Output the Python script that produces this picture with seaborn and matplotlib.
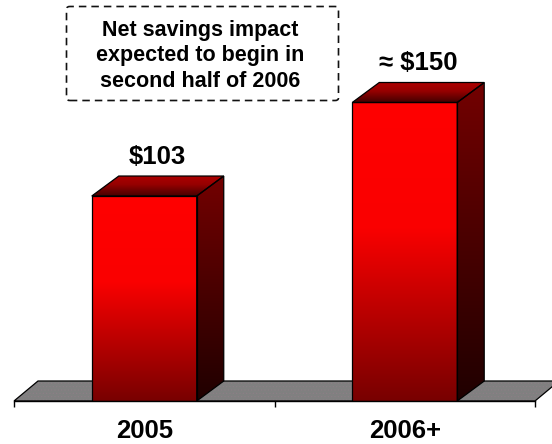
import numpy as np
import matplotlib
matplotlib.use("Agg")
import matplotlib.pyplot as plt
from matplotlib.patches import Polygon, FancyBboxPatch
import seaborn as sns
import pandas as pd

categories = ["2005", "2006+"]
values = [103, 150]
value_labels = ["$103", "\u2248 $150"]
note = "Net savings impact\nexpected to begin in\nsecond half of 2006"

sns.set_theme(style="white")
plt.rcParams["font.family"] = ["Liberation Sans", "DejaVu Sans"]
plt.rcParams["font.weight"] = "bold"
plt.rcParams["hatch.linewidth"] = 0.5

W, H = 552, 444
fig = plt.figure(figsize=(W / 100, H / 100), dpi=100)
ax_left, ax_right, ax_base = 14, 535, 401
ax = fig.add_axes([ax_left / W, (H - ax_base) / H, (ax_right - ax_left) / W, ax_base / H])
px_per_val = 1.99
df = pd.DataFrame({"cat": categories, "val": values})
sns.barplot(data=df, x="cat", y="val", ax=ax, width=0.403, color="red", saturation=1,
            edgecolor="none", zorder=3)
ax.set_xlim(-0.5, 1.5)
ax.set_ylim(0, ax_base / px_per_val)
ax.set_xlabel("")
ax.set_ylabel("")
ax.set_yticks([])
for s in ("left", "right", "top"):
    ax.spines[s].set_visible(False)
ax.spines["bottom"].set_color("black")
ax.spines["bottom"].set_linewidth(1.0)
ax.spines["bottom"].set_zorder(6)
ax.set_xticks([-0.5, 0.5, 1.5], labels=["", "", ""])
ax.set_xticks([0, 1], labels=categories, minor=True)
ax.tick_params(axis="x", which="major", length=4.5, width=1, color="black", bottom=True)
ax.tick_params(axis="x", which="minor", length=0, pad=13, labelsize=18.5, labelcolor="black")
for t in ax.get_xticklabels(minor=True):
    t.set_fontweight("bold")

ux = 1 / (ax_right - ax_left) * 2
dx, dy = 27 * ux, 20 / px_per_val
fdx, fdy = 24 * ux, 20 / px_per_val

# floor
floor = [(-0.5, 0), (-0.5 + fdx, fdy), (1.5 + fdx, fdy), (1.5, 0)]
ax.add_patch(Polygon(floor, closed=True, facecolor="#808080", edgecolor="#8c7f86", hatch=".....",
                     linewidth=0, clip_on=False, zorder=1))
ax.add_patch(Polygon(floor, closed=True, facecolor="none", edgecolor="black", linewidth=0.9,
                     clip_on=False, zorder=1.5))


def grad(stops):
    ys, rs = zip(*stops)
    g = np.linspace(0, 1, 256)
    return np.interp(g, ys, rs)


def paint(poly, extent, arr_r):
    rgb = np.zeros((256, 1, 3))
    rgb[:, 0, 0] = arr_r / 255
    im = ax.imshow(rgb, extent=extent, origin="upper", aspect="auto", zorder=4,
                   interpolation="bilinear")
    patch = Polygon(poly, closed=True, facecolor="none", edgecolor="black", linewidth=0.9, zorder=5)
    ax.add_patch(patch)
    im.set_clip_path(patch)


front = grad([(0, 255), (0.42, 250), (1, 120)])
side = grad([(0, 115), (1, 32)])
top = grad([(0, 175), (0.45, 150), (1, 70)])

label_offsets = [5, 5.5]
for bar, lab, off in zip(list(ax.patches)[:2], value_labels, label_offsets):
    x0, w, h = bar.get_x(), bar.get_width(), bar.get_height()
    x1 = x0 + w
    bar.set_visible(False)
    paint([(x0, 0), (x1, 0), (x1, h), (x0, h)], (x0, x1, 0, h), front)
    paint([(x1, 0), (x1 + dx, dy), (x1 + dx, h + dy), (x1, h)], (x1, x1 + dx, 0, h + dy), side)
    paint([(x0, h), (x1, h), (x1 + dx, h + dy), (x0 + dx, h + dy)], (x0, x1 + dx, h, h + dy), top)
    ax.annotate(lab, (x0 + (w + dx) / 2, h + dy), xytext=(0, off), textcoords="offset points",
                ha="center", va="bottom", fontsize=18.5, fontweight="bold", color="black",
                annotation_clip=False, zorder=7)

ax.set_xlim(-0.5, 1.5)
ax.set_ylim(0, ax_base / px_per_val)

# note box
fig.add_artist(FancyBboxPatch((66.5 / W, 1 - 100.5 / H), 272 / W, 94 / H,
                              boxstyle="round,pad=0,rounding_size=0.006",
                              transform=fig.transFigure, facecolor="white", edgecolor="#111111",
                              linewidth=1.2, linestyle=(0, (4.5, 3))))
fig.text(200 / W, 1 - 56 / H, note, ha="center", va="center", fontsize=15.5, fontweight="bold",
         color="black", linespacing=1.3)

fig.savefig("out.png", dpi=100)
